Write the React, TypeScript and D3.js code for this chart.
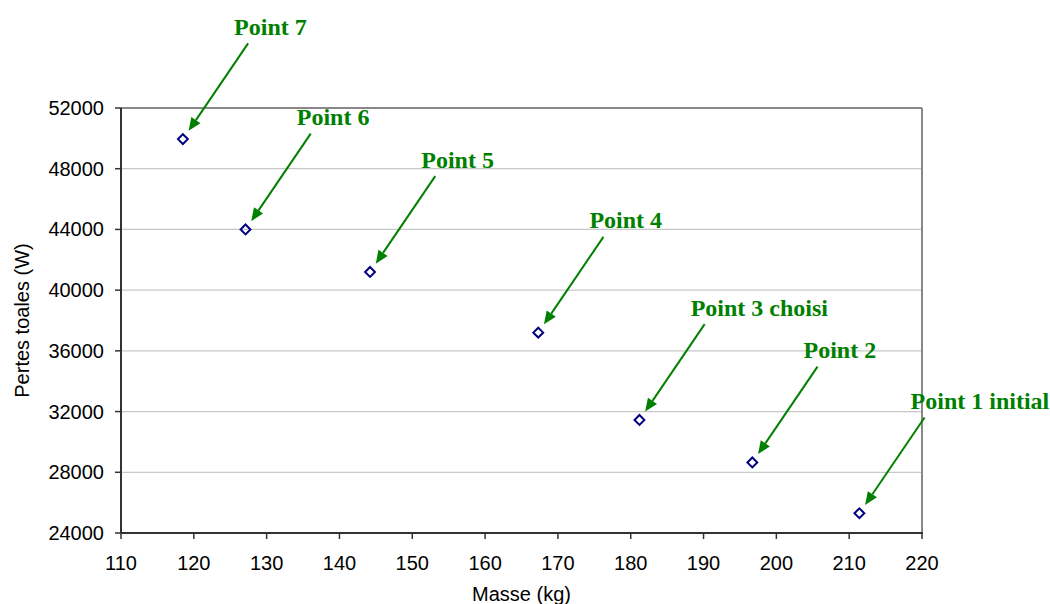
import React from "react";
import * as d3 from "d3";

const masses = [211.4, 196.7, 181.2, 167.3, 144.2, 127.1, 118.5];
const pertes = [25300, 28650, 31450, 37200, 41200, 44000, 49950];
const pointLabels = ["Point 1 initial", "Point 2", "Point 3 choisi", "Point 4", "Point 5", "Point 6", "Point 7"];
const xTicks = [110, 120, 130, 140, 150, 160, 170, 180, 190, 200, 210, 220];
const yTicks = [24000, 28000, 32000, 36000, 40000, 44000, 48000, 52000];

const W = 1050, H = 604;
const L = 121, R = 922, T = 108, B = 533;

export default function App() {
  const x = d3.scaleLinear().domain([110, 220]).range([L, R]);
  const y = d3.scaleLinear().domain([24000, 52000]).range([B, T]);
  const green = "#008000";
  const navy = "#000080";
  const diamond = d3.symbol().type(d3.symbolDiamond2).size(62)();

  return (
    <svg width={W} height={H} style={{ position: "absolute", left: 0, top: 0 }}>
      <rect x={0} y={0} width={W} height={H} fill="#fff" />
      {yTicks.slice(1, -1).map((t) => (
        <line key={t} x1={L} x2={R} y1={y(t)} y2={y(t)} stroke="#c8c8c8" strokeWidth={1.2} />
      ))}
      {/* frame top/right */}
      <line x1={L} x2={R} y1={T} y2={T} stroke="#888" strokeWidth={2} />
      <line x1={R} x2={R} y1={T} y2={B} stroke="#888" strokeWidth={2} />
      {/* axes */}
      <line x1={L} x2={L} y1={T} y2={B} stroke="#333" strokeWidth={2} />
      <line x1={L} x2={R + 1} y1={B} y2={B} stroke="#333" strokeWidth={2} />
      {yTicks.map((t) => (
        <g key={t}>
          <line x1={L - 6} x2={L} y1={y(t)} y2={y(t)} stroke="#333" strokeWidth={1.5} />
          <text x={L - 17} y={y(t)} dy="0.35em" textAnchor="end" fontFamily="Liberation Sans, Arial, sans-serif" fontSize={20} fill="#000">
            {t}
          </text>
        </g>
      ))}
      {xTicks.map((t) => (
        <g key={t}>
          <line x1={x(t)} x2={x(t)} y1={B} y2={B + 6} stroke="#333" strokeWidth={1.5} />
          <text x={x(t)} y={B + 37} textAnchor="middle" fontFamily="Liberation Sans, Arial, sans-serif" fontSize={20} fill="#000">
            {t}
          </text>
        </g>
      ))}
      <text x={(L + R) / 2} y={601} textAnchor="middle" fontFamily="Liberation Sans, Arial, sans-serif" fontSize={20}>
        Masse (kg)
      </text>
      <text transform={`translate(29,${(T + B) / 2}) rotate(-90)`} textAnchor="middle" fontFamily="Liberation Sans, Arial, sans-serif" fontSize={20}>
        Pertes toales (W)
      </text>
      {masses.map((m, i) => {
        const px = x(m), py = y(pertes[i]);
        const tx = px + 5.7, ty = py - 8.3;
        const sx = tx + 59.5, sy = ty - 87.5;
        const len = Math.hypot(sx - tx, sy - ty);
        const ux = (sx - tx) / len, uy = (sy - ty) / len;
        const hl = 13, hw = 5.5;
        const bx = tx + ux * hl, by = ty + uy * hl;
        const head = `${tx},${ty} ${bx - uy * hw},${by + ux * hw} ${bx + uy * hw},${by - ux * hw}`;
        return (
          <g key={i}>
            <line x1={sx} y1={sy} x2={bx} y2={by} stroke={green} strokeWidth={2} />
            <polygon points={head} fill={green} />
            <text x={sx - 14} y={sy - 8.5} fontFamily="Liberation Serif, Times New Roman, serif" fontWeight="bold" fontSize={24} fill={green}>
              {pointLabels[i]}
            </text>
            <path d={diamond} transform={`translate(${px},${py})`} fill="none" stroke={navy} strokeWidth={2} />
          </g>
        );
      })}
    </svg>
  );
}
